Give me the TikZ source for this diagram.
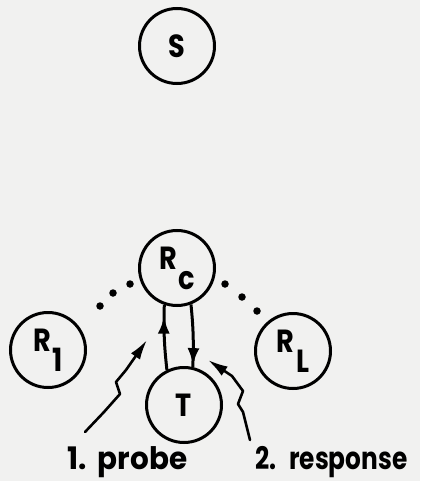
\documentclass[tikz,border=0pt]{standalone}
\usepackage{fontspec}
\usepackage{graphicx}
\setmainfont{Poppins}
\usetikzlibrary{arrows.meta,decorations.markings}
\definecolor{bgc}{RGB}{241,241,240}
\newcommand{\nar}[1]{\scalebox{0.85}[1]{#1}}
\newcommand{\sub}[1]{\kern2pt\raisebox{-0.62em}{#1}}
\begin{document}
\begin{tikzpicture}[x=1pt,y=-1pt,
  ring/.style={circle,draw,line width=3pt,minimum size=75pt,inner sep=0pt,
    font=\fontsize{32}{32}\selectfont\bfseries},
  txt/.style={inner sep=0pt,anchor=base west,font=\fontsize{31}{31}\selectfont\bfseries},
  link/.style={line width=3pt,postaction={decorate}},
  zap/.style={line width=2.6pt,line join=round,line cap=round,-{Latex[length=20pt,width=11pt]}},
  dotc/.style={circle,fill,inner sep=0pt,minimum size=7.5pt}]
\fill[bgc] (0,0) rectangle (420,481);
\useasboundingbox (0,0) rectangle (420,481);
\node[ring] (S) at (177,46) {\nar{S}};
\node[ring] (Rc) at (177,268) {\nar{R\sub{c}}};
\node[ring] (R1) at (48,350) {\nar{R\sub{1}}};
\node[ring] (RL) at (293,351) {\nar{R\sub{L}}};
\node[ring] (T) at (184,405) {\nar{T}};
% dots
\node[dotc] (d1) at (100,306) {};
\node[dotc] (d2) at (113,293) {};
\node[dotc] (d3) at (130,284) {};
\node[dotc] (d4) at (225,284) {};
\node[dotc] (d5) at (242,297) {};
\node[dotc] (d6) at (257,311) {};
% probe / response arrows
\draw[link,decoration={markings,mark=at position 0.82 with {\arrow{Latex[length=17pt,width=12pt]}}}]
  (T.116) to[bend left=4] (Rc.-109);
\draw[link,decoration={markings,mark=at position 0.97 with {\arrow{Latex[length=17pt,width=12pt]}}}]
  (Rc.-69) to[bend left=4] (T.77);
% lightning arrows
\coordinate (pa) at (85,432);
\coordinate (pb) at (104,412);
\coordinate (pc) at (120,394);
\coordinate (pd) at (116,382);
\coordinate (pe) at (126,370);
\coordinate (pf) at (147,340);
\draw[zap] (pa) -- (pb) -- (pc) -- (pd) -- (pe) -- (pf);
\coordinate (qa) at (250,440);
\coordinate (qb) at (243,412);
\coordinate (qc) at (238,404);
\coordinate (qd) at (243,391);
\coordinate (qe) at (232,376);
\coordinate (qf) at (208,360);
\draw[zap] (qa) -- (qb) -- (qc) -- (qd) -- (qe) -- (qf);
% labels
\node[txt] (probe) at (67,469) {\scalebox{0.95}[1]{1.\hspace{12pt}probe}};
\node[txt] (resp) at (255,469) {\scalebox{0.8}[1]{2.\hspace{16pt}response}};
\end{tikzpicture}
\end{document}
